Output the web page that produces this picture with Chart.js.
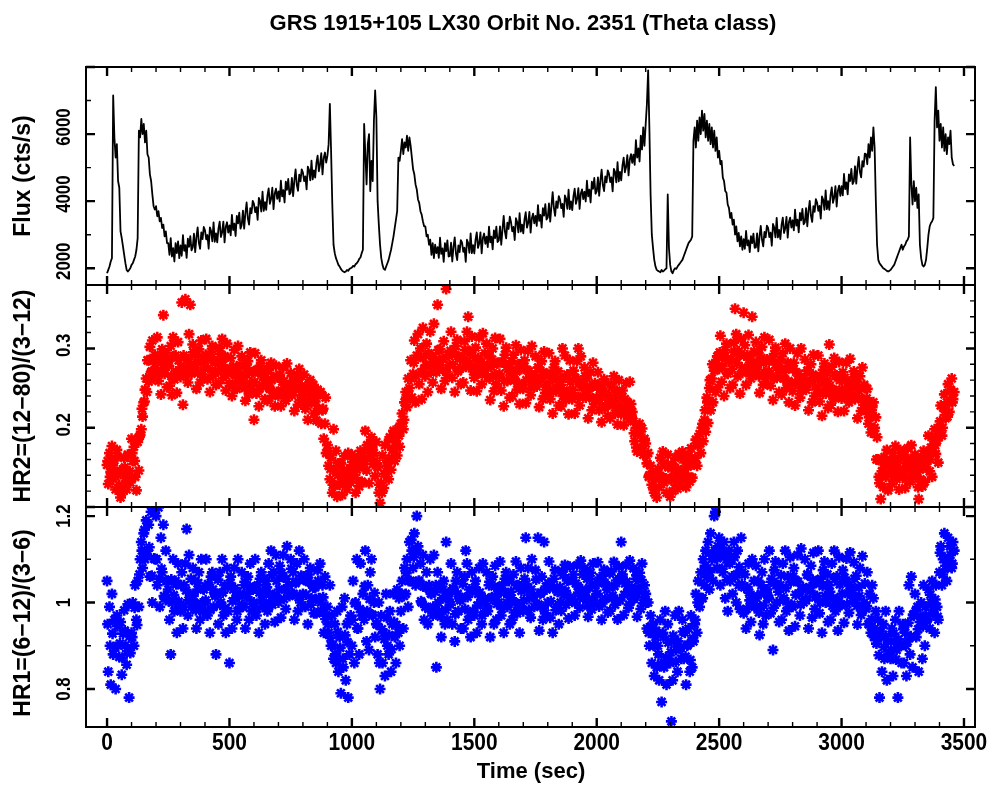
<!DOCTYPE html>
<html>
<head>
<meta charset="utf-8">
<title>GRS 1915+105 light curve</title>
<script src="https://cdn.jsdelivr.net/npm/chart.js@4.4.1/dist/chart.umd.min.js"></script>
<style>
  html, body { margin: 0; padding: 0; background: #fff; }
  #wrap { position: relative; width: 992px; height: 786px; }
  #wrap canvas { position: absolute; left: 0; }
</style>
</head>
<body>
<div id="wrap">
  <canvas id="pFlux" width="992" height="300" style="top:0px"></canvas>
  <canvas id="pHr2" width="992" height="250" style="top:270px"></canvas>
  <canvas id="pHr1" width="992" height="296" style="top:490px"></canvas>
</div>
<script>
// PCA count rate, one value every 5 s
const FLUX_STEP = 5;
const flux = [
  1850, 1950, 2050, 2200, 2300, 7150, 5900, 5300, 5700, 4600,
  4400, 3100, 2900, 2650, 2400, 2150, 1950, 1900, 1950, 2000,
  2100, 2150, 2250, 2350, 2550, 2900, 6100, 5900, 6450, 6000,
  6300, 5750, 6100, 5400, 5300, 4800, 4600, 4200, 3850, 3750,
  3850, 3550, 3700, 3400, 3500, 3200, 3300, 2950, 3100, 2750,
  2750, 2400, 2900, 2350, 2600, 2200, 2750, 2450, 2800, 2300,
  2680, 2370, 2990, 2520, 2690, 2310, 2880, 2640, 2960, 2530,
  2620, 3030, 2480, 2920, 3220, 2760, 2580, 3070, 2870, 3230,
  3130, 2860, 2990, 2580, 3220, 3110, 2800, 3370, 2790, 3040,
  2770, 3180, 3390, 2930, 3070, 3390, 2770, 3240, 3370, 3060,
  3280, 2980, 3590, 3140, 3330, 2960, 3560, 3340, 3660, 3180,
  3290, 3720, 3180, 3640, 3960, 3490, 3300, 3790, 3640, 4010,
  3920, 3670, 3820, 3440, 4100, 4000, 3690, 4280, 3710, 3970,
  3740, 4160, 4380, 3920, 4070, 4400, 3760, 4230, 4370, 4070,
  4290, 3990, 4610, 4140, 4330, 3960, 4580, 4340, 4660, 4200,
  4260, 4690, 4150, 4610, 4950, 4480, 4310, 4790, 4590, 4950,
  4850, 4600, 4740, 4350, 5030, 4930, 4620, 5210, 4650, 4920,
  4700, 5130, 5360, 4890, 5100, 5430, 4800, 5290, 5450, 5150,
  5350, 5700, 6900, 5500, 3900, 2700, 2450, 2300, 2200, 2100,
  2050, 1980, 1930, 1900, 1880, 1900, 1950, 1920, 1980, 2000,
  2020, 2070, 2050, 2120, 2150, 2200, 2280, 2320, 2450, 2550,
  6300, 5400, 4500, 5700, 6000, 4300, 5200, 4600, 6400, 7300,
  6500, 4000, 3300, 2700, 2300, 2100, 1980, 1950, 2050, 2150,
  2250, 2400, 2550, 2750, 2950, 3200, 3450, 3700, 5300, 5200,
  5500, 5850, 5400, 5750, 5600, 5950, 5500, 5900, 5650, 5300,
  4950, 4800, 4500, 4350, 4050, 3950, 3700, 3600, 3400, 3250,
  3250, 2950, 3000, 2700, 2850, 2400, 2750, 2300, 2700, 2450,
  2630, 2310, 2910, 2430, 2590, 2190, 2750, 2510, 2830, 2350,
  2360, 2760, 2200, 2640, 2920, 2440, 2240, 2680, 2480, 2840,
  2760, 2490, 2610, 2190, 2850, 2750, 2460, 3040, 2450, 2690,
  2440, 2855, 3070, 2605, 2740, 3070, 2445, 2900, 3035, 2730,
  2940, 2630, 3240, 2770, 2940, 2560, 3130, 2900, 3240, 2780,
  2830, 3250, 2700, 3150, 3560, 3090, 2890, 3360, 3170, 3540,
  3370, 3100, 3230, 2840, 3490, 3380, 3070, 3640, 3090, 3300,
  3040, 3455, 3670, 3210, 3350, 3680, 3060, 3490, 3630, 3340,
  3560, 3260, 3880, 3410, 3590, 3210, 3790, 3570, 3910, 3450,
  3510, 3930, 3390, 3850, 4270, 3800, 3560, 3990, 3800, 4150,
  4050, 3790, 3920, 3530, 4170, 4070, 3770, 4340, 3760, 3990,
  3730, 4150, 4370, 3920, 4070, 4390, 3770, 4230, 4350, 4060,
  4280, 3990, 4610, 4140, 4340, 3960, 4580, 4370, 4690, 4220,
  4290, 4710, 4160, 4620, 4940, 4480, 4300, 4740, 4560, 4920,
  4820, 4570, 4710, 4290, 4960, 4870, 4560, 5160, 4590, 4870,
  4620, 5060, 5300, 4860, 5020, 5370, 4770, 5240, 5400, 5140,
  5390, 5080, 5820, 5300, 5570, 5180, 5950, 5540, 6200, 5650,
  6300, 6900, 7900, 6200, 4200, 3000, 2600, 2250, 2050, 1950,
  1920, 1900, 1880, 1950, 1900, 1930, 1970, 2000, 4200, 2600,
  2100, 1900, 1850, 1950, 2000, 1980, 2050, 2100, 2150, 2200,
  2250, 2350, 2450, 2550, 2650, 2750, 2800, 2850, 2950, 5800,
  6200, 5600, 6400, 5800, 6500, 6000, 6700, 6100, 6600, 5900,
  6400, 5800, 6300, 5700, 6200, 5600, 6100, 5500, 5900, 5300,
  5500, 5100, 5200, 4700, 4600, 4300, 4250, 3900, 3800, 3500,
  3650, 3300, 3450, 3000, 3250, 2800, 3050, 2650, 2950, 2550,
  2870, 2580, 3110, 2680, 2830, 2480, 2960, 2750, 3030, 2610,
  2620, 3040, 2500, 2950, 3260, 2850, 2650, 3080, 2920, 3270,
  3200, 2930, 3060, 2670, 3320, 3210, 2920, 3500, 2920, 3140,
  2870, 3290, 3510, 3050, 3190, 3530, 2910, 3370, 3510, 3210,
  3430, 3130, 3750, 3270, 3450, 3070, 3650, 3430, 3770, 3310,
  3370, 3790, 3250, 3710, 4010, 3560, 3380, 3850, 3680, 4060,
  3960, 3710, 3860, 3480, 4140, 4040, 3740, 4320, 3760, 4000,
  3740, 4180, 4410, 3950, 4110, 4450, 3840, 4310, 4460, 4160,
  4450, 4170, 4810, 4360, 4560, 4200, 4800, 4600, 4960, 4510,
  4590, 5040, 4520, 5000, 5320, 4870, 4710, 5190, 5030, 5420,
  5400, 5100, 5700, 5300, 5900, 5500, 6200, 5600, 4000, 2700,
  2250, 2150, 2100, 2050, 2000, 1980, 1950, 1920, 1900, 1920,
  1950, 2000, 2050, 2100, 2200, 2300, 2400, 2500, 2600, 2700,
  2550, 2650, 2700, 2800, 2850, 2950, 5900, 4500, 3900, 4600,
  4000, 4400, 3800, 4200, 2700, 2300, 2100, 2050, 2100, 2250,
  2600, 3000, 3250, 3350, 3400, 3500, 6400, 7400, 6200, 6700,
  5800, 6300, 5600, 6200, 5500, 6000, 5400, 5900, 5700, 6100,
  5300, 5100, 5050
];

// hardness ratios, one value every 5 s
const HR_STEP = 5;
const hr2 = [
  .153, .129, .168, .144, .177, .135, .159, .122, .172, .140,
  .128, .112, .118, .146, .162, .137, .122, .166, .140, .131,
  .186, .158, .176, .138, .121, .182, .146, .191, .198, .214,
  .232, .248, .262, .285, .258, .302, .270, .310, .262, .292,
  .275, .314, .259, .289, .242, .299, .342, .268, .284, .251,
  .284, .253, .303, .241, .314, .261, .291, .244, .308, .267,
  .264, .358, .229, .288, .362, .276, .257, .318, .355, .268,
  .305, .271, .292, .249, .282, .299, .257, .310, .264, .285,
  .275, .312, .261, .289, .245, .296, .303, .270, .284, .254,
  .284, .256, .301, .273, .312, .263, .290, .247, .306, .268,
  .256, .288, .240, .277, .298, .266, .249, .303, .270, .259,
  .290, .256, .277, .234, .267, .284, .242, .295, .249, .270,
  .210, .294, .243, .271, .227, .278, .285, .252, .266, .236,
  .258, .234, .273, .249, .282, .240, .264, .227, .278, .245,
  .240, .267, .227, .258, .276, .249, .234, .281, .252, .243,
  .269, .241, .259, .221, .250, .265, .229, .274, .235, .253,
  .236, .267, .224, .248, .210, .254, .260, .231, .243, .218,
  .233, .209, .248, .224, .243, .205, .222, .186, .205, .168,
  .178, .152, .135, .162, .118, .198, .127, .171, .113, .155,
  .128, .155, .115, .146, .164, .137, .122, .168, .140, .131,
  .166, .138, .156, .118, .147, .162, .126, .171, .132, .150,
  .160, .196, .146, .174, .130, .181, .188, .154, .168, .139,
  .182, .150, .118, .105, .130, .165, .124, .178, .142, .158,
  .135, .188, .147, .172, .196, .158, .183, .165, .199, .176,
  .205, .218, .198, .232, .245, .226, .262, .250, .285, .238,
  .268, .310, .232, .291, .318, .255, .300, .236, .326, .274,
  .265, .306, .245, .292, .321, .279, .257, .331, .284, .270,
  .355, .275, .299, .249, .287, .309, .259, .375, .267, .291,
  .279, .321, .263, .295, .245, .303, .311, .273, .289, .255,
  .289, .257, .309, .277, .321, .340, .297, .247, .315, .271,
  .263, .301, .246, .288, .314, .276, .255, .319, .280, .267,
  .306, .264, .291, .235, .277, .300, .246, .313, .255, .282,
  .265, .312, .247, .283, .227, .292, .301, .259, .277, .238,
  .272, .240, .292, .260, .304, .248, .280, .230, .298, .254,
  .249, .285, .231, .273, .297, .261, .241, .303, .265, .253,
  .290, .252, .276, .226, .264, .284, .236, .296, .244, .268,
  .252, .294, .236, .268, .218, .276, .284, .246, .262, .228,
  .259, .227, .300, .247, .291, .235, .267, .217, .285, .241,
  .236, .272, .218, .260, .284, .300, .228, .290, .252, .240,
  .276, .238, .262, .212, .250, .270, .222, .282, .230, .254,
  .238, .270, .222, .248, .207, .254, .261, .228, .243, .215,
  .238, .212, .255, .228, .265, .218, .245, .204, .260, .223,
  .217, .247, .203, .236, .256, .227, .211, .258, .230, .220,
  .208, .183, .200, .170, .192, .205, .172, .199, .166, .186,
  .180, .155, .168, .140, .152, .128, .142, .118, .135, .112,
  .148, .125, .162, .137, .170, .131, .153, .118, .166, .135,
  .113, .154, .120, .146, .162, .137, .123, .167, .140, .131,
  .170, .143, .160, .125, .151, .165, .132, .174, .137, .154,
  .158, .185, .152, .178, .192, .168, .200, .183, .210, .195,
  .238, .206, .250, .222, .262, .232, .272, .245, .285, .251,
  .274, .316, .258, .290, .240, .298, .306, .268, .284, .250,
  .287, .254, .307, .350, .318, .265, .296, .243, .312, .269,
  .345, .304, .254, .291, .317, .279, .262, .340, .283, .270,
  .308, .270, .294, .244, .282, .302, .254, .314, .262, .286,
  .269, .311, .253, .285, .235, .293, .301, .263, .279, .245,
  .274, .242, .294, .262, .306, .250, .282, .232, .300, .256,
  .246, .282, .228, .270, .294, .258, .238, .300, .262, .250,
  .286, .248, .272, .222, .260, .280, .232, .292, .240, .264,
  .249, .291, .233, .265, .215, .273, .281, .243, .259, .225,
  .305, .229, .277, .248, .288, .237, .266, .220, .283, .242,
  .237, .270, .221, .259, .282, .249, .232, .287, .252, .241,
  .271, .236, .258, .212, .247, .265, .221, .276, .229, .250,
  .221, .249, .205, .230, .194, .226, .232, .200, .213, .188,
  .160, .130, .110, .145, .125, .163, .138, .172, .121, .155,
  .153, .129, .168, .144, .177, .135, .159, .122, .172, .140,
  .138, .165, .124, .156, .174, .147, .132, .178, .150, .141,
  .166, .138, .156, .110, .147, .162, .126, .171, .132, .150,
  .158, .190, .145, .175, .138, .186, .198, .167, .184, .156,
  .200, .228, .190, .225, .242, .212, .232, .255, .220, .248,
  .262, .236, .245
];
const hr1 = [
  1.05, .84, .99, .81, 1.02, .88, .96, .80, .97, .90,
  .874, .955, .833, .928, .982, .901, .856, .996, .780, .883,
  .93, 1.0, .90, 1.04, .96, 1.05, .99, 1.10, 1.14, 1.08,
  1.16, 1.10, 1.19, 1.12, 1.18, 1.06, 1.21, 1.0, 1.22, 1.10,
  1.20, 1.04, 1.22, .99, 1.15, 1.07, 1.18, 1.01, 1.12, 1.05,
  1.03, .96, .88, 1.0, 1.10, .98, 1.05, .93, 1.09, .99,
  .98, 1.07, .94, 1.04, 1.09, 1.17, .97, 1.11, 1.02, .99,
  1.08, 1.0, 1.05, .94, 1.03, 1.07, .96, 1.10, .98, 1.03,
  1.0, 1.10, .97, 1.04, .93, 1.06, 1.07, .99, 1.02, .88,
  1.02, .95, 1.07, 1.0, 1.10, .97, 1.04, .93, 1.08, .98,
  .86, 1.06, .94, 1.03, 1.08, 1.01, .96, 1.10, 1.015, .99,
  1.07, .99, 1.04, .94, 1.02, 1.06, .96, 1.09, .98, 1.03,
  1.0, 1.10, .97, 1.04, .93, 1.055, 1.07, .99, 1.02, .95,
  1.05, .98, 1.09, 1.02, 1.12, .995, 1.07, .955, 1.11, 1.01,
  1.0, 1.085, .965, 1.06, 1.11, 1.03, .985, 1.13, 1.04, 1.015,
  1.10, 1.02, 1.07, .96, 1.045, 1.09, .98, 1.12, 1.0, 1.055,
  1.02, 1.10, .99, 1.05, .95, 1.065, 1.08, 1.01, 1.04, .975,
  1.035, .975, 1.075, 1.01, 1.09, .98, 1.04, .93, 1.06, .97,
  .99, .93, 1.04, .90, .97, .87, .95, .86, .98, .84,
  .92, .79, .99, .85, 1.01, .82, .95, .78, .88, .97,
  .90, 1.05, .86, 1.0, 1.10, .94, .88, 1.09, .97, 1.02,
  .96, 1.12, .91, 1.04, .89, 1.07, 1.10, .97, 1.0, .92,
  .95, .88, 1.0, .80, .97, .86, .93, .83, 1.02, .90,
  .88, .98, .84, .95, 1.02, .92, .86, 1.03, .93, .90,
  .98, 1.05, .94, 1.08, 1.02, 1.10, .99, 1.14, 1.05, 1.12,
  1.08, 1.16, 1.04, 1.20, 1.13, 1.05, 1.09, 1.0, 1.11, .96,
  .99, 1.07, .95, 1.04, 1.10, 1.02, .97, 1.11, 1.025, .85,
  1.07, .98, 1.04, .92, 1.01, 1.05, .95, 1.14, .96, 1.02,
  1.0, 1.09, .95, 1.03, .91, 1.05, 1.07, .98, 1.01, .94,
  1.01, .94, 1.06, 1.12, 1.09, .96, 1.03, .92, 1.07, .98,
  .97, 1.05, .93, 1.02, 1.08, 1.0, .95, 1.09, 1.005, .98,
  1.07, .98, 1.04, .92, 1.01, 1.06, .95, 1.085, .96, 1.02,
  1.0, 1.095, .97, 1.04, .93, 1.055, 1.07, .99, 1.02, .95,
  1.025, .96, 1.065, 1.0, 1.095, .975, 1.04, .93, 1.08, .985,
  .98, 1.055, 1.15, 1.03, 1.08, 1.01, .965, 1.10, 1.015, .99,
  1.075, .995, 1.15, .935, 1.02, 1.06, .96, 1.14, .975, 1.03,
  1.0, 1.095, .965, 1.04, .93, 1.055, 1.075, .99, 1.025, .95,
  1.036, .981, 1.072, 1.017, 1.087, .995, 1.051, .963, 1.083, 1.005,
  1.002, 1.065, .970, 1.044, 1.086, 1.023, .988, 1.097, 1.030, 1.009,
  1.079, 1.012, 1.055, .967, 1.034, 1.069, .984, 1.090, .998, 1.040,
  1.019, 1.093, .991, 1.048, .960, 1.062, 1.076, 1.009, 1.037, .977,
  1.037, .981, 1.072, 1.016, 1.094, .995, 1.051, .961, 1.083, 1.005,
  1.140, 1.065, .971, 1.044, 1.086, 1.024, .988, 1.097, 1.030, 1.008,
  1.079, 1.013, 1.055, .967, 1.034, 1.069, .985, 1.090, .998, 1.040,
  1.02, .94, 1.0, .90, .97, .86, .95, .83, .92, .85,
  .90, .82, .96, .77, .93, .85, .98, .81, .95, .87,
  .86, .725, .82, .91, .97, .89, .84, .98, .895, .87,
  .96, .87, .93, .81, .90, .94, .84, .97, .85, .91,
  .95, 1.02, .93, 1.05, .99, 1.07, 1.01, 1.10, 1.04, 1.12,
  1.06, 1.14, 1.03, 1.16, 1.10, 1.05, 1.20, 1.21, 1.08, 1.13,
  1.15, 1.04, 1.12, 1.07, 1.14, 1.01, 1.10, .98, 1.12, 1.05,
  1.10, 1.02, 1.14, 1.06, 1.0, 1.12, 1.04, .985, 1.15, 1.07,
  .975, 1.065, .94, 1.035, 1.09, 1.005, .955, 1.10, 1.015, .99,
  1.085, .99, 1.05, .925, 1.02, 1.07, .95, 1.10, .97, 1.03,
  1.015, 1.12, .975, 1.055, .89, 1.075, 1.095, 1.0, 1.04, .955,
  1.04, .96, 1.09, 1.01, 1.12, .98, 1.06, .935, 1.105, .995,
  .99, 1.08, .945, 1.05, 1.11, 1.02, .97, 1.125, 1.03, 1.0,
  1.10, 1.005, 1.065, .94, 1.035, 1.085, .965, 1.115, .985, 1.045,
  1.015, 1.12, .975, 1.055, .93, 1.075, 1.095, 1.0, 1.04, .955,
  1.04, .96, 1.09, 1.01, 1.12, .98, 1.06, .935, 1.105, .995,
  .994, 1.075, .953, 1.048, 1.102, 1.021, .976, 1.116, 1.030, 1.003,
  1.093, 1.007, 1.062, .949, 1.035, 1.080, .971, 1.107, .989, 1.044,
  .986, 1.07, .95, 1.02, .93, 1.04, 1.01, .94, .98, .92,
  .96, .78, .92, .84, .95, .87, .98, .82, .91, .88,
  .87, .94, .83, .91, .96, .89, .78, .98, .90, .86,
  .95, .86, .93, .83, .91, 1.04, .88, 1.06, .85, .97,
  1.02, .92, .99, .84, .955, 1.0, .87, 1.04, .90, .97,
  .96, 1.03, .94, 1.0, 1.05, .975, .93, 1.04, .99, .96,
  1.07, 1.13, 1.04, 1.10, 1.16, 1.085, 1.05, 1.15, 1.09, 1.11,
  1.08, 1.14, 1.12
];

// second read-out of the same ratios, every 10 s starting at 2.5 s
const CORE_START = 2.5, CORE_STEP = 10;
const hr2Core = [
  .158, .138, .153, .144, .164, .146, .125, .150, .131, .145,
  .168, .158, .183, .189, .224, .233, .245, .285, .271, .285,
  .288, .268, .283, .274, .294, .278, .265, .290, .271, .285,
  .276, .291, .267, .286, .280, .295, .272, .283, .269, .289,
  .292, .275, .287, .266, .282, .271, .293, .279, .289, .273,
  .273, .253, .268, .259, .279, .263, .250, .275, .256, .270,
  .258, .273, .249, .268, .260, .274, .250, .260, .245, .264,
  .264, .247, .259, .238, .254, .243, .265, .251, .261, .245,
  .248, .228, .243, .234, .254, .237, .222, .245, .224, .238,
  .170, .148, .128, .146, .140, .155, .132, .143, .129, .149,
  .157, .140, .152, .131, .168, .158, .178, .164, .174, .158,
  .155, .128, .118, .142, .152, .185, .162, .173, .176, .190,
  .205, .210, .238, .238, .262, .282, .265, .290, .270, .288,
  .279, .294, .270, .289, .283, .298, .275, .286, .272, .292,
  .297, .280, .292, .271, .287, .276, .298, .284, .294, .278,
  .288, .268, .283, .274, .294, .277, .262, .286, .267, .281,
  .268, .283, .259, .277, .270, .284, .261, .271, .256, .274,
  .277, .260, .271, .250, .266, .255, .276, .261, .270, .254,
  .266, .246, .261, .251, .271, .254, .240, .264, .245, .258,
  .248, .263, .239, .257, .251, .265, .241, .251, .237, .256,
  .252, .235, .246, .225, .240, .230, .252, .238, .246, .229,
  .238, .218, .233, .224, .214, .193, .175, .195, .171, .183,
  .165, .138, .140, .122, .140, .143, .138, .155, .136, .150,
  .136, .151, .128, .148, .145, .160, .138, .151, .137, .155,
  .162, .180, .180, .205, .222, .232, .260, .280, .275, .290,
  .295, .278, .290, .269, .285, .274, .296, .282, .292, .276,
  .291, .271, .286, .277, .296, .279, .265, .288, .270, .283,
  .271, .286, .262, .280, .273, .286, .262, .273, .259, .277,
  .274, .257, .268, .247, .262, .251, .272, .258, .267, .252,
  .263, .243, .258, .249, .269, .253, .240, .265, .246, .260,
  .248, .263, .239, .258, .251, .264, .240, .251, .236, .254,
  .237, .213, .222, .196, .160, .138, .158, .149, .154, .143,
  .158, .138, .153, .144, .164, .148, .135, .160, .141, .155,
  .144, .125, .135, .154, .150, .168, .160, .175, .178, .192,
  .208, .200, .216, .214, .234, .232
];
const hr1Core = [
  .950, .900, .928, .895, .945, .905, .872, .935, .888, .922,
  .920, .988, .948, 1.065, 1.120, 1.168, 1.110, 1.128, 1.062, 1.102,
  1.100, 1.055, 1.078, 1.015, 1.050, 1.003, 1.053, 1.017, 1.042, 1.002,
  1.040, .990, 1.028, 1.005, 1.055, 1.015, .982, 1.045, .998, 1.032,
  1.005, 1.043, .983, 1.030, 1.015, 1.053, .995, 1.023, .987, 1.037,
  1.045, 1.003, 1.033, .980, 1.020, .993, 1.048, 1.012, 1.037, .997,
  1.035, .985, 1.023, 1.005, 1.055, 1.035, 1.000, 1.063, 1.016, 1.050,
  1.030, 1.068, 1.008, 1.055, 1.040, 1.078, 1.020, 1.048, 1.012, 1.062,
  1.060, 1.018, 1.048, .995, 1.035, 1.008, 1.050, 1.000, 1.012, .962,
  .950, .918, .902, .880, .932, .895, .870, .924, .908, .962,
  .960, .998, .940, .985, .978, 1.038, .980, 1.008, .972, 1.022,
  .950, .860, .938, .915, .965, .925, .892, .955, .948, 1.010,
  1.020, 1.015, 1.068, 1.050, 1.145, 1.105, 1.120, 1.050, 1.003, 1.037,
  1.035, .985, 1.021, .990, 1.040, 1.000, .967, 1.030, .983, 1.017,
  .995, 1.033, .973, 1.020, 1.005, 1.043, .985, 1.013, .977, 1.027,
  1.035, .993, 1.023, .970, 1.010, .991, 1.048, 1.012, 1.037, .997,
  1.035, .985, 1.023, 1.000, 1.050, 1.010, .977, 1.040, .993, 1.027,
  1.005, 1.043, .983, 1.030, 1.015, 1.053, .995, 1.023, .987, 1.037,
  1.045, 1.003, 1.033, .982, 1.025, 1.000, 1.063, 1.027, 1.052, 1.012,
  1.050, 1.000, 1.038, 1.015, 1.065, 1.025, .992, 1.055, 1.008, 1.042,
  1.020, 1.058, .998, 1.045, 1.030, 1.068, 1.010, 1.038, 1.002, 1.052,
  1.060, 1.018, 1.048, .995, 1.035, 1.008, 1.063, 1.027, 1.052, 1.012,
  1.000, .930, .945, .900, .935, .880, .858, .920, .873, .907,
  .885, .923, .863, .910, .895, .933, .875, .903, .867, .917,
  .960, 1.000, 1.010, 1.010, 1.085, 1.080, 1.070, 1.110, 1.120, 1.102,
  1.120, 1.078, 1.106, 1.052, 1.090, 1.060, 1.105, 1.065, 1.082, 1.042,
  1.035, .985, 1.023, 1.000, 1.050, 1.010, .977, 1.040, .993, 1.027,
  1.010, 1.048, .988, 1.040, 1.025, 1.063, 1.005, 1.033, .997, 1.047,
  1.060, 1.018, 1.048, .995, 1.035, 1.008, 1.063, 1.027, 1.052, 1.012,
  1.050, 1.000, 1.038, 1.015, 1.065, 1.025, .992, 1.055, 1.008, 1.042,
  1.020, 1.058, .996, 1.040, 1.022, 1.055, .992, 1.015, .982, 1.000,
  .992, .950, .962, .920, .905, .878, .933, .897, .922, .882,
  .890, .928, .868, .915, .900, .938, .900, .953, .922, .972,
  .980, .938, .968, .945, .990, .963, 1.018, .982, 1.007, .967,
  1.115, 1.065, 1.103, 1.080, 1.130, 1.090
];

// axis ticks and their labels
const timeTicks = [0, 500, 1000, 1500, 2000, 2500, 3000, 3500];
const timeLabels = ['0', '500', '1000', '1500', '2000', '2500', '3000', '3500'];
const fluxTicks = [2000, 4000, 6000];
const fluxLabels = ['2000', '4000', '6000'];
const hr2Ticks = [0.2, 0.3];
const hr2Labels = ['0.2', '0.3'];
const hr1Ticks = [0.8, 1, 1.2];
const hr1Labels = ['0.8', '1', '1.2'];

const T_MIN = -86, T_MAX = 3545;
const FONT = '"Liberation Sans", Arial, Helvetica, sans-serif';

function series(values, start, step) {
  return values.map((v, i) => ({x: start + i * step, y: v}));
}

function drawText(ctx, str, x, y, size, angle, stretch) {
  ctx.save();
  ctx.translate(x, y);
  ctx.rotate(angle);
  ctx.scale(stretch, 1);
  ctx.font = 'bold ' + size + 'px ' + FONT;
  ctx.fillStyle = '#000';
  ctx.textAlign = 'center';
  ctx.textBaseline = 'middle';
  ctx.fillText(str, 0, 0);
  ctx.restore();
}

function steps(min, max, step) {
  const out = [];
  for (let k = Math.ceil(min / step - 1e-6); k * step <= max + 1e-6; k++) out.push(k * step);
  return out;
}

function onStep(v, step) {
  const r = v / step;
  return Math.abs(r - Math.round(r)) < 1e-6;
}

// box, inward ticks on all four sides, tick labels and titles
const framePlugin = {
  id: 'frame',
  afterDatasetsDraw(chart, args, o) {
    const {ctx, chartArea: a} = chart;
    const xs = chart.scales.x, ys = chart.scales.y;
    ctx.save();
    ctx.strokeStyle = '#000';

    steps(xs.min, xs.max, 100).forEach(t => {
      const px = xs.getPixelForValue(t);
      const major = onStep(t, 500);
      const len = major ? 9 : 5;
      ctx.lineWidth = major ? 2.4 : 1.4;
      ctx.beginPath();
      ctx.moveTo(px, a.top); ctx.lineTo(px, a.top + len);
      ctx.moveTo(px, a.bottom); ctx.lineTo(px, a.bottom - len);
      ctx.stroke();
    });

    steps(ys.min, ys.max, o.minor).forEach(v => {
      const py = ys.getPixelForValue(v);
      const major = onStep(v, o.major);
      const len = major ? 9 : 5;
      ctx.lineWidth = major ? 2.4 : 1.4;
      ctx.beginPath();
      ctx.moveTo(a.left, py); ctx.lineTo(a.left + len, py);
      ctx.moveTo(a.right, py); ctx.lineTo(a.right - len, py);
      ctx.stroke();
    });

    ctx.lineWidth = 2;
    ctx.strokeRect(a.left, a.top, a.right - a.left, a.bottom - a.top);

    o.ticks.forEach((v, i) => {
      drawText(ctx, o.labels[i], 64, ys.getPixelForValue(v) + o.labelShift, 21, -Math.PI / 2, 0.8);
    });
    drawText(ctx, o.title, 24, (a.top + a.bottom) / 2 + o.titleShift, 23, -Math.PI / 2, 1);

    if (o.timeAxis) {
      timeTicks.forEach((t, i) => {
        drawText(ctx, timeLabels[i], xs.getPixelForValue(t), a.bottom + 17, 23, 0, 0.91);
      });
      drawText(ctx, 'Time (sec)', 531, a.bottom + 45, 22, 0, 1);
    }
    if (o.heading) {
      drawText(ctx, o.heading, 523, 24, 22, 0, 1);
    }
    ctx.restore();
  }
};

function panel(canvasId, datasets, yMin, yMax, padTop, padBottom, frame) {
  return new Chart(document.getElementById(canvasId), {
    type: 'scatter',
    data: {datasets},
    options: {
      responsive: false,
      animation: false,
      events: [],
      layout: {padding: {left: 86, right: 17, top: padTop, bottom: padBottom}},
      scales: {
        x: {type: 'linear', min: T_MIN, max: T_MAX, display: false},
        y: {type: 'linear', min: yMin, max: yMax, display: false}
      },
      plugins: {legend: {display: false}, tooltip: {enabled: false}, frame: frame}
    },
    plugins: [framePlugin]
  });
}

function stars(points, color) {
  return {
    data: points,
    pointStyle: 'star',
    pointRadius: 5.5,
    pointBorderWidth: 2.6,
    borderColor: color,
    backgroundColor: color,
    showLine: false
  };
}

panel('pFlux', [{
  type: 'line',
  data: series(flux, 0, FLUX_STEP),
  borderColor: '#000',
  borderWidth: 1.8,
  borderJoinStyle: 'round',
  pointRadius: 0,
  tension: 0,
  fill: false
}], 1500, 8000, 67, 15, {
  major: 2000, minor: 1000, ticks: fluxTicks, labels: fluxLabels, labelShift: -7,
  title: 'Flux (cts/s)', titleShift: 0,
  heading: 'GRS 1915+105 LX30 Orbit No. 2351 (Theta class)'
});

const RED = 'rgb(255,0,0)', BLUE = 'rgb(0,0,255)';

panel('pHr2', [
  stars(series(hr2, 0, HR_STEP), RED),
  stars(series(hr2Core, CORE_START, CORE_STEP), RED)
], 0.1, 0.38, 15, 13, {
  major: 0.1, minor: 0.02, ticks: hr2Ticks, labels: hr2Labels, labelShift: -3,
  title: 'HR2=(12\u221280)/(3\u221212)', titleShift: 0
});

panel('pHr1', [
  stars(series(hr1, 0, HR_STEP), BLUE),
  stars(series(hr1Core, CORE_START, CORE_STEP), BLUE)
], 0.712, 1.221, 17, 59, {
  major: 0.2, minor: 0.1, ticks: hr1Ticks, labels: hr1Labels, labelShift: 0,
  title: 'HR1=(6\u221212)/(3\u22126)', titleShift: 6, timeAxis: true
});
</script>
</body>
</html>
